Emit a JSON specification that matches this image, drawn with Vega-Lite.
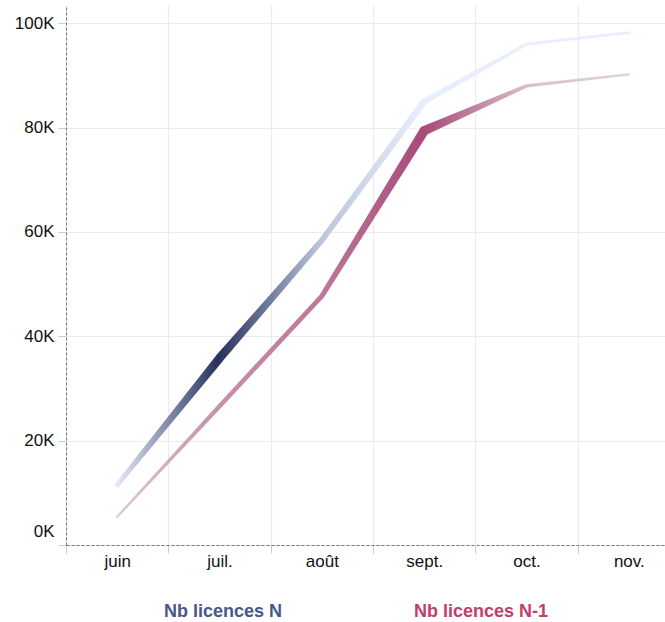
{
  "$schema": "https://vega.github.io/schema/vega-lite/v6.json",
  "autosize": "none",
  "width": 599,
  "height": 540,
  "padding": {"left": 66, "top": 5, "right": 0, "bottom": 77},
  "background": "white",
  "config": {
    "font": "Liberation Sans",
    "view": {"stroke": null},
    "axis": {"labelFont": "Liberation Sans", "labelFontSize": 17, "labelColor": "#111", "gridColor": "#ebebeb", "gridWidth": 1.2, "tickColor": "#cccccc", "tickSize": 8, "title": null}
  },
  "data": {"values": [
    {"mois": "juin", "ordre": 1, "serie": "Nb licences N", "valeur": 11500, "poids": 0.35},
    {"mois": "juil.", "ordre": 2, "serie": "Nb licences N", "valeur": 35800, "poids": 0.9},
    {"mois": "août", "ordre": 3, "serie": "Nb licences N", "valeur": 58400, "poids": 0.5},
    {"mois": "sept.", "ordre": 4, "serie": "Nb licences N", "valeur": 85000, "poids": 0.6},
    {"mois": "oct.", "ordre": 5, "serie": "Nb licences N", "valeur": 96000, "poids": 0.15},
    {"mois": "nov.", "ordre": 6, "serie": "Nb licences N", "valeur": 98200, "poids": 0.15},
    {"mois": "juin", "ordre": 1, "serie": "Nb licences N-1", "valeur": 5400, "poids": 0.05},
    {"mois": "juil.", "ordre": 2, "serie": "Nb licences N-1", "valeur": 26600, "poids": 0.35},
    {"mois": "août", "ordre": 3, "serie": "Nb licences N-1", "valeur": 47700, "poids": 0.4},
    {"mois": "sept.", "ordre": 4, "serie": "Nb licences N-1", "valeur": 79400, "poids": 1.0},
    {"mois": "oct.", "ordre": 5, "serie": "Nb licences N-1", "valeur": 88000, "poids": 0.2},
    {"mois": "nov.", "ordre": 6, "serie": "Nb licences N-1", "valeur": 90200, "poids": 0.05}
  ]},
  "encoding": {
    "x": {"field": "mois", "type": "ordinal", "sort": ["juin", "juil.", "août", "sept.", "oct.", "nov."],
      "scale": {"type": "band", "range": [0, 614], "paddingInner": 0, "paddingOuter": 0},
      "axis": {"labelAngle": 0, "tickBand": "extent", "grid": true, "domainDash": [3, 2], "domainColor": "#777", "domainWidth": 1, "labelPadding": 0}},
    "y": {"field": "valeur", "type": "quantitative",
      "scale": {"domain": [0, 103500], "nice": false},
      "axis": {"values": [0, 20000, 40000, 60000, 80000, 100000], "labelExpr": "format(datum.value/1000, 'd') + 'K'", "domainDash": [3, 2], "domainColor": "#777", "domainWidth": 1, "labelFlush": true, "labelFlushOffset": -5, "labelPadding": 4}}
  },
  "layer": [
    {
      "transform": [{"filter": "datum.serie === 'Nb licences N-1'"}],
      "mark": {"type": "trail", "color": {"gradient": "linear", "x1": 0, "x2": 1, "y1": 0, "y2": 0, "stops": [
        {"offset": 0, "color": "#dccbd2"},
        {"offset": 0.2, "color": "#c690a8"},
        {"offset": 0.4, "color": "#bd7898"},
        {"offset": 0.6, "color": "#a84a7a"},
        {"offset": 0.8, "color": "#dbbfcb"},
        {"offset": 1, "color": "#ded2d7"}
      ]}},
      "encoding": {
        "order": {"field": "ordre"},
        "size": {"field": "poids", "type": "quantitative", "scale": {"domain": [0, 1], "range": [1.8, 9.5]}, "legend": null}
      }
    },
    {
      "transform": [{"filter": "datum.serie === 'Nb licences N'"}],
      "mark": {"type": "trail", "color": {"gradient": "linear", "x1": 0, "x2": 1, "y1": 0, "y2": 0, "stops": [
        {"offset": 0, "color": "#e6ecfa"},
        {"offset": 0.2, "color": "#26325e"},
        {"offset": 0.4, "color": "#bcc5dc"},
        {"offset": 0.6, "color": "#e8eefd"},
        {"offset": 0.8, "color": "#e8eefd"},
        {"offset": 1, "color": "#e8eefd"}
      ]}},
      "encoding": {
        "order": {"field": "ordre"},
        "size": {"field": "poids", "type": "quantitative", "scale": {"domain": [0, 1], "range": [1.8, 9.5]}, "legend": null}
      }
    },
    {
      "mark": {"type": "point", "opacity": 0},
      "encoding": {
        "color": {"field": "serie", "type": "nominal", "scale": {"domain": ["Nb licences N", "Nb licences N-1"], "range": ["#48578a", "#c23e6a"]},
          "legend": {"title": null, "orient": "none", "legendX": 80, "legendY": 598, "direction": "horizontal", "symbolOpacity": 0, "symbolSize": 0, "symbolStrokeWidth": 0, "labelOffset": 0, "columnPadding": 113, "labelFontSize": 18, "labelFontWeight": "bold", "labelFont": "Liberation Sans",
            "labelColor": {"expr": "datum.value === 'Nb licences N' ? '#48578a' : '#c23e6a'"}}
        }
      }
    }
  ]
}
